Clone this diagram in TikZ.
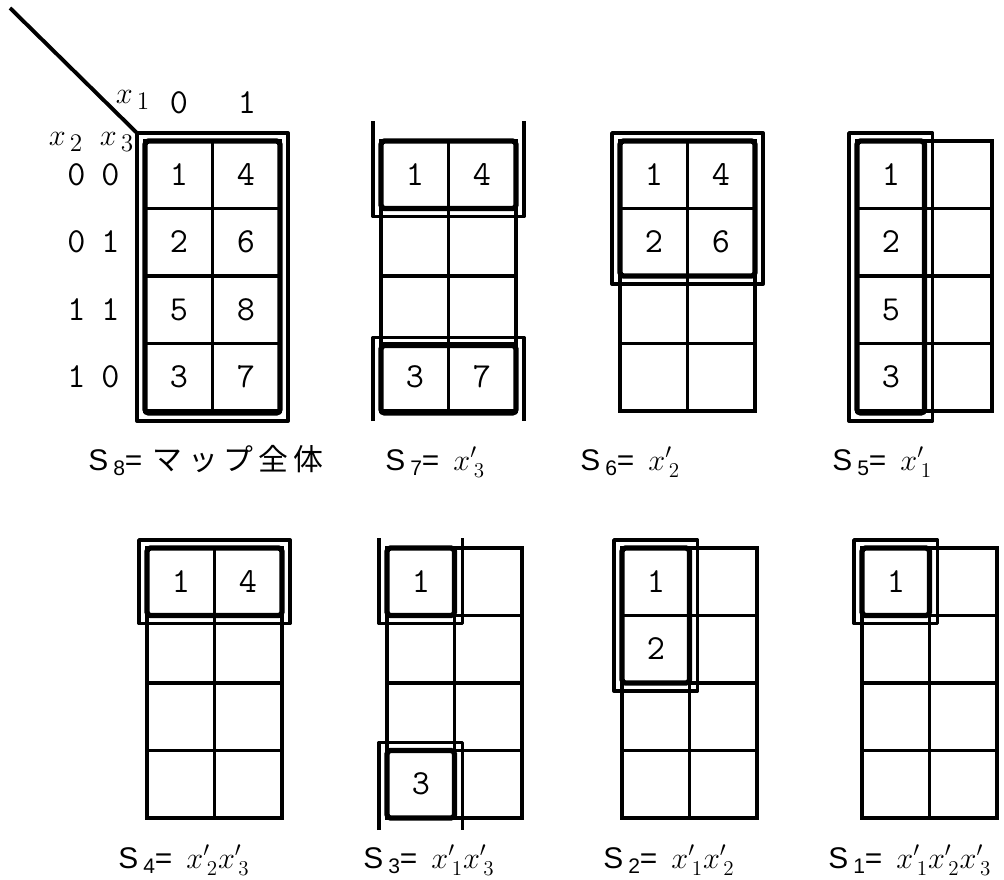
\documentclass[tikz,border=0pt]{standalone}
\usepackage{fontspec}
\setsansfont{Liberation Sans}
\newfontfamily\jfont{Noto Sans CJK JP}
\newcommand\Scap[1]{\textsf{S}\,\raisebox{-.45ex}{\fontsize{12}{12}\selectfont\textsf{#1}}\textsf{=}}
\tikzset{kline/.style={line width=2pt},
inbox/.style={line width=3pt,rounded corners=2pt},
loopline/.style={line width=2.2pt,line join=round},
num/.style={font=\fontsize{20}{22}\selectfont\ttfamily,inner sep=0pt},
lab/.style={font=\fontsize{19}{21}\selectfont,inner sep=0pt},
capt/.style={font=\fontsize{17}{20}\selectfont,anchor=base west,inner sep=0pt}}

\begin{document}
\begin{tikzpicture}[x=.02cm,y=-.02cm]
\useasboundingbox (0,0) rectangle (1004,879);
% the eight 2x4 maps
\foreach \mx/\my in {145/141,381/141,620/141,857/141,147/548,387/548,622/548,862/548}{
  \draw[kline] (\mx,\my) rectangle ++(135,270);
  \draw[kline] (\mx+67.5,\my) -- ++(0,270);
  \foreach \r in {1,2,3} \draw[kline] (\mx,\my+\r*67.5) -- ++(135,0);
}
% headings of the first map
\coordinate (tip) at (10,8);
\coordinate (corner) at (137,133);
\draw[loopline] (tip) -- (corner);
\node[lab] (xone) at (133,100) {$x_{\,1}$};
\node[num] (colzero) at (179,103) {0};
\node[num] (colone) at (247,103) {1};
\node[lab] (xtwo) at (66,142) {$x_{\,2}$};
\node[lab] (xthree) at (117,142) {$x_{\,3}$};
\node[num] (rowa) at (93.5,175) {0\hspace{9pt}0};
\node[num] (rowb) at (93.5,242) {0\hspace{9pt}1};
\node[num] (rowc) at (93.5,310) {1\hspace{9pt}1};
\node[num] (rowd) at (93.5,377) {1\hspace{9pt}0};
% S8
\draw[inbox] (145,141) rectangle (280,413);
\draw[loopline] (corner) rectangle (288,421);
\node[num] (ea) at (179,175) {1};
\node[num] (eb) at (179,242) {2};
\node[num] (ec) at (179,310) {5};
\node[num] (ed) at (179,377) {3};
\node[num] (ee) at (246,175) {4};
\node[num] (ef) at (246,242) {6};
\node[num] (eg) at (246,310) {8};
\node[num] (eh) at (246,377) {7};
% S7
\draw[inbox] (381,141) rectangle (516,208.5);
\draw[inbox] (381,345.5) rectangle (516,413);
\draw[loopline] (373,121) -- (373,216.5) -- (524,216.5) -- (524,121);
\draw[loopline] (373,421) -- (373,337.5) -- (524,337.5) -- (524,421);
\node[num] (sa) at (415,175) {1};
\node[num] (sb) at (482,175) {4};
\node[num] (sc) at (415,377) {3};
\node[num] (sd) at (482,377) {7};
% S6
\draw[inbox] (620,141) rectangle (755,276);
\draw[loopline] (612,133) rectangle (763,284);
\node[num] (xa) at (654,175) {1};
\node[num] (xb) at (721,175) {4};
\node[num] (xc) at (654,242) {2};
\node[num] (xd) at (721,242) {6};
% S5
\draw[inbox] (857,141) rectangle (924.5,413);
\draw[loopline] (849,133) rectangle (932.5,421);
\node[num] (fa) at (891,175) {1};
\node[num] (fb) at (891,242) {2};
\node[num] (fc) at (891,310) {5};
\node[num] (fd) at (891,377) {3};
% S4
\draw[inbox] (147,548) rectangle (282,615.5);
\draw[loopline] (139,540) rectangle (290,623.5);
\node[num] (qa) at (181,582) {1};
\node[num] (qb) at (248,582) {4};
% S3
\draw[inbox] (387,548) rectangle (454.5,615.5);
\draw[inbox] (387,750.5) rectangle (454.5,818);
\draw[loopline] (379,538) -- (379,623.5) -- (462.5,623.5) -- (462.5,538);
\draw[loopline] (379,830) -- (379,742.5) -- (462.5,742.5) -- (462.5,830);
\node[num] (ta) at (421,582) {1};
\node[num] (tb) at (421,784) {3};
% S2
\draw[inbox] (622,548) rectangle (689.5,683);
\draw[loopline] (614,540) rectangle (697.5,691);
\node[num] (wa) at (656,582) {1};
\node[num] (wb) at (656,649) {2};
% S1
\draw[inbox] (862,548) rectangle (929.5,615.5);
\draw[loopline] (854,540) rectangle (937.5,623.5);
\node[num] (oa) at (896,582) {1};
% captions
\node[capt] (capeight) at (88,470) {\Scap{8}\hspace{6pt}{\jfont マ\hspace{3pt}ッ\hspace{3pt}プ\hspace{3pt}全\hspace{3pt}体}};
\node[capt] (capseven) at (385,470) {\Scap{7}\hspace{8pt}$x'_{\,3}$};
\node[capt] (capsix) at (580,470) {\Scap{6}\hspace{8pt}$x'_{\,2}$};
\node[capt] (capfive) at (832,470) {\Scap{5}\hspace{8pt}$x'_{\,1}$};
\node[capt] (capfour) at (118,868) {\Scap{4}\hspace{8pt}$x'_{\,2}x'_{\,3}$};
\node[capt] (capthree) at (363,868) {\Scap{3}\hspace{8pt}$x'_{\,1}x'_{\,3}$};
\node[capt] (captwo) at (603,868) {\Scap{2}\hspace{8pt}$x'_{\,1}x'_{\,2}$};
\node[capt] (capone) at (828,868) {\Scap{1}\hspace{8pt}$x'_{\,1}x'_{\,2}x'_{\,3}$};
\end{tikzpicture}
\end{document}
